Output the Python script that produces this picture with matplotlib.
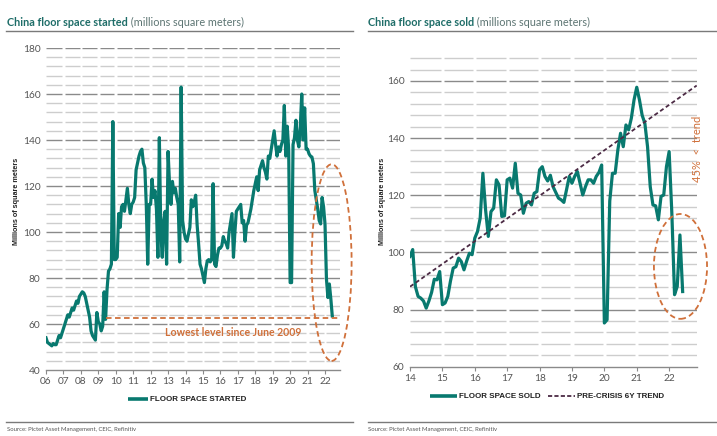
import numpy as np
import pandas as pd
import matplotlib
matplotlib.use("Agg")
import matplotlib.pyplot as plt
from matplotlib.patches import Ellipse
from matplotlib.lines import Line2D

# ---------------- data ----------------
started_start = "2006-01"
floor_space_started = [
    # 2006
    54, 52, 51.5, 51, 50.5, 51.5, 51, 51, 53, 55, 54, 56,
    # 2007
    58, 60, 62, 64, 63, 65, 67, 66, 68, 70, 69, 72,
    # 2008
    73, 74, 73.5, 72, 69, 66, 63, 57, 55, 54, 53, 65,
    # 2009
    61, 60, 57, 59, 74, 62, 75, 83, 84, 86, 148, 88,
    # 2010
    88, 89, 108, 102, 111, 112, 109, 114, 119, 112, 108, 112,
    # 2011
    113, 115, 127, 130, 133, 135, 136, 130, 128, 112, 86, 112,
    # 2012
    112, 123, 115, 118, 110, 89, 141, 100, 89, 105, 109, 86,
    # 2013
    135, 121, 112, 122, 117, 119, 115, 112, 87, 163, 105, 100,
    # 2014
    97, 96, 99, 102, 114, 111, 113, 116, 103, 95, 86, 84,
    # 2015
    81, 78, 84, 87.5, 88, 87, 88, 121, 86, 85, 90, 93,
    # 2016
    93, 94, 98, 96, 95, 93, 100, 104, 108, 89, 100, 109,
    # 2017
    110, 111, 112, 104, 105, 96, 103, 104, 107, 110, 114, 118,
    # 2018
    121, 124, 118, 127, 129, 131, 128, 126, 123, 133, 132, 136,
    # 2019
    140, 144, 138, 133, 137, 135, 138, 140, 155, 133, 146, 136,
    # 2020
    78, 78, 138, 141, 148.6, 140, 137, 146, 160, 140, 154, 136,
    # 2021
    136, 134, 133, 132.6, 129.7, 118, 114, 110, 105, 103.5, 115, 111,
    # 2022
    103.5, 79.5, 71.5, 77.4, 71, 63.5,
]

sold_start = "2014-01"
floor_space_sold = [
    # 2014
    98.6, 101, 88, 84.6, 84, 83, 80.5, 83, 86, 90.6, 90.4, 93.3,
    # 2015
    81.7, 82.3, 84.6, 90, 94.5, 95, 98, 96.8, 93.9, 97, 99.7, 99.2,
    # 2016
    105, 107.3, 112, 127.7, 114.9, 105.6, 114.3, 115.5, 125.4, 123.6, 112.6, 112.8,
    # 2017
    125.4, 126, 122.5, 131.2, 120.7, 120.1, 113.7, 117.2, 117.8, 116.6, 120.7, 121.3,
    # 2018
    128.9, 130, 126.6, 125, 127, 123, 121, 119, 118.4, 117.5, 122, 126.6,
    # 2019
    124.2, 126.6, 128.3, 124.2, 120.1, 123, 125.4, 125.4, 124.2, 126.6, 128, 130.6,
    # 2020
    75.3, 76.4, 118, 127.7, 127.7, 135.9, 141.7, 137, 144.6, 142.9, 147, 153.4,
    # 2021
    157.8, 153.4, 148, 145.2, 137, 123, 116.6, 116.3, 111.4, 119.6, 120.1, 130,
    # 2022
    135.3, 113.7, 85.2, 88.1, 106.1, 86.3,
]

trend_years = [2014.0, 2022.85]
trend_values = [88, 158.4]

lowest_level = 62.5
lowest_since = 2009 + 5 / 12   # June 2009

left_xticks = list(range(2006, 2023))
left_xticklabels = [f"{y % 100:02d}" for y in left_xticks]
left_yticks = [40, 60, 80, 100, 120, 140, 160, 180]
right_xticks = list(range(2014, 2023))
right_xticklabels = [f"{y % 100:02d}" for y in right_xticks]
right_yticks = [60, 80, 100, 120, 140, 160]

# ---------------- style ----------------
TEAL = "#08796f"
TITLE_TEAL = "#1e6d68"
SUB = "#5d7573"
ORANGE = "#d0703a"
TREND = "#4b2a44"
MAJOR = "#8a8a8a"
MINOR = "#cdcdcd"
TXT = "#555555"
FONT = ["Lato", "DejaVu Sans"]
NARROW = ["Liberation Sans", "DejaVu Sans"]

plt.rcParams["font.family"] = FONT
plt.rcParams["lines.scale_dashes"] = False

W, H = 717, 436
fig = plt.figure(figsize=(W / 100, H / 100), dpi=100)


def fx(px):
    return px / W


def fy(py):
    return 1 - py / H


def to_years(start, n):
    idx = pd.date_range(start, periods=n, freq="MS")
    return idx.year + (idx.month - 1) / 12.0


def draw_grid(ax, x0, x1, levels, gap):
    for lv in levels:
        col = MAJOR if lv % 20 == 0 else MINOR
        yr = int(np.floor(x0))
        while yr < x1:
            a = x0 if yr <= x0 else yr + gap / 2
            b = min(x1, yr + 1 - gap / 2)
            ax.plot([a, b], [lv, lv], color=col, lw=1.0, zorder=1,
                    solid_capstyle="butt")
            yr += 1


def style_axis(ax, xlim, ylim, xticks, xlabels, yticks):
    ax.set_xlim(*xlim)
    ax.set_ylim(*ylim)
    for s in ("top", "right", "left"):
        ax.spines[s].set_visible(False)
    ax.spines["bottom"].set_color("#8a8a8a")
    ax.spines["bottom"].set_linewidth(1.0)
    ax.set_xticks(xticks)
    ax.set_xticklabels(xlabels)
    ax.set_yticks(yticks)
    ax.tick_params(axis="x", length=3, width=0.8, color="#8a8a8a",
                   labelsize=7.3, labelcolor=TXT, pad=2)
    ax.tick_params(axis="y", length=0, labelsize=7.3, labelcolor=TXT, pad=4)
    ax.patch.set_visible(False)


# ---------------- left chart ----------------
axL = fig.add_axes([fx(46), fy(370), fx(340 - 46), (370 - 48) / H])
xL = to_years(started_start, len(floor_space_started))
draw_grid(axL, 2006, 2022.86, list(range(44, 181, 4)), 0.15)
axL.plot(xL, floor_space_started, color=TEAL, lw=2.3, zorder=3,
         solid_joinstyle="round")
style_axis(axL, (2006, 2022.86), (40, 180), left_xticks, left_xticklabels,
           left_yticks)
axL.plot([lowest_since, 2022.86], [lowest_level, lowest_level], color=ORANGE,
         lw=1.3, ls=(0, (4, 2.5)), zorder=4)
axL.text(2016.75, 56.3, "Lowest level since June 2009", color=ORANGE,
         fontsize=7.6, fontweight="bold", ha="center", va="center")
axL.add_patch(Ellipse((2022.38, 86.7), 2.29, 85.5, fill=False, ec=ORANGE,
                      lw=1.3, ls=(0, (4, 2.5)), clip_on=False, zorder=5))

# ---------------- right chart ----------------
axR = fig.add_axes([fx(410), fy(366.7), fx(697 - 410), (366.7 - 52.4) / H])
xR = to_years(sold_start, len(floor_space_sold))
draw_grid(axR, 2014, 2022.86, list(range(64, 169, 4)), 0.1)
axR.plot(xR, floor_space_sold, color=TEAL, lw=2.3, zorder=3,
         solid_joinstyle="round")
axR.plot(trend_years, trend_values, color=TREND, lw=1.3,
         ls=(0, (3, 2)), zorder=4)
style_axis(axR, (2014, 2022.86), (60, 170), right_xticks, right_xticklabels,
           right_yticks)
axR.add_patch(Ellipse((2022.35, 95.1), 1.64, 36.7, fill=False, ec=ORANGE,
                      lw=1.3, ls=(0, (4, 2.5)), clip_on=False, zorder=5))
axR.text(2022.89, 136.2, "45%  <  trend", color=ORANGE, fontsize=8.0,
         rotation=90, ha="center", va="center", clip_on=False)

# ---------------- titles, rules, labels ----------------
for x0, x1 in ((6, 353), (368, 717)):
    fig.add_artist(Line2D([fx(x0), fx(x1)], [fy(31), fy(31)],
                          color="#7a7a7a", lw=1.0))
    fig.add_artist(Line2D([fx(x0), fx(x1)], [fy(422), fy(422)],
                          color="#7a7a7a", lw=1.0))

for xpx, main in ((7, "China floor space started"), (368, "China floor space sold")):
    t1 = fig.text(fx(xpx), fy(26), main, color=TITLE_TEAL, fontsize=7.8,
                  fontweight="bold", ha="left", va="baseline")
    fig.add_artist(matplotlib.text.Annotation(
        " (millions square meters)", xy=(1, 0), xycoords=t1,
        xytext=(0, 0), textcoords="offset points", va="bottom", ha="left",
        color=SUB, fontsize=7.8))

for xpx in (7, 368):
    fig.text(fx(xpx), fy(429), "Source: Pictet Asset Management, CEIC, Refinitiv",
             color=TXT, fontsize=4.3, ha="left", va="center")

for xpx in (17, 383):
    fig.text(fx(xpx), fy(201), "Millions of square meters", color="#222222",
             fontsize=5.2, fontweight="bold", rotation=90, ha="center",
             va="center", family=NARROW)

# ---------------- legends ----------------
def legend_item(x0, x1, ypx, text, color, ls, lw):
    fig.add_artist(Line2D([fx(x0), fx(x1)], [fy(ypx), fy(ypx)], color=color,
                          lw=lw, ls=ls, solid_capstyle="butt"))
    fig.text(fx(x1 + 2), fy(ypx), text, color="#222222", fontsize=5.8,
             fontweight="bold", ha="left", va="center", family=NARROW)


legend_item(128, 148, 399, "FLOOR SPACE STARTED", TEAL, "-", 2.6)
legend_item(430, 457, 396, "FLOOR SPACE SOLD", TEAL, "-", 2.6)
legend_item(548, 575, 396, "PRE-CRISIS 6Y TREND", TREND, (0, (3, 1.6)), 1.3)

fig.savefig("out.png", dpi=100)
